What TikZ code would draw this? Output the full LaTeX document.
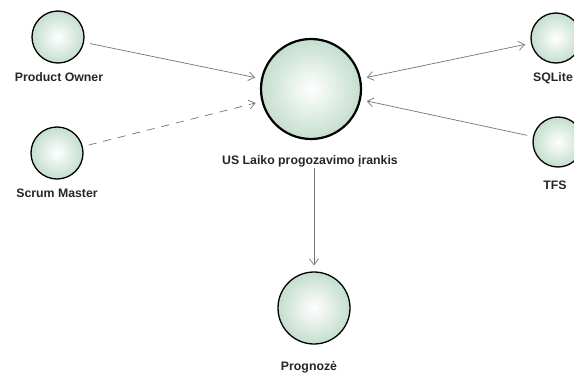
\documentclass[tikz,border=0pt]{standalone}
\usepackage{fontspec}
\setmainfont{Liberation Sans}
\usetikzlibrary{arrows.meta}
\definecolor{actorfill}{RGB}{196,222,206}
\tikzset{
  actor/.style={circle, draw=black, line width=1.3pt, inner sep=0pt,
    inner color=white, outer color=actorfill, minimum size=#1},
  lbl/.style={font=\fontsize{12.3}{14}\selectfont\bfseries, text=black!85, inner sep=0pt},
  link/.style={draw=black!55, line width=0.7pt, shorten >=6pt, shorten <=6pt,
    -{Straight Barb[length=6pt,width=9pt]}},
}
\begin{document}
\begin{tikzpicture}[x=1pt,y=-1pt]
  \useasboundingbox (0,0) rectangle (574,375);
  % circles
  \node[actor=52pt] (po) at (58,37) {};
  \node[actor=52pt] (sm) at (57,153) {};
  \node[actor=100pt, line width=2.2pt] (us) at (311,89) {};
  \node[actor=50pt] (sql) at (556,38) {};
  \node[actor=50pt] (tfs) at (558,142) {};
  \node[actor=72pt] (prog) at (314,308) {};
  % labels
  \node[lbl] (polbl) at (59,77) {Product Owner};
  \node[lbl] (smlbl) at (57,193) {Scrum Master};
  \node[lbl] (uslbl) at (310,161) {US Laiko progozavimo įrankis};
  \node[lbl, anchor=west] (sqllbl) at (533,78) {SQLite};
  \node[lbl] (tfslbl) at (555,185) {TFS};
  \node[lbl] (proglbl) at (309,367) {Prognozė};
  % connectors
  \draw[link] (po) -- (us);
  \draw[link, dashed, dash pattern=on 8pt off 7pt] (sm) -- (us);
  \draw[link, {Straight Barb[length=6pt,width=9pt]}-{Straight Barb[length=6pt,width=9pt]}] (us) -- (sql);
  \draw[link] (tfs) -- (us);
  \draw[link, shorten <=1pt] (uslbl.south -| prog.north) -- (prog.north);
\end{tikzpicture}
\end{document}
